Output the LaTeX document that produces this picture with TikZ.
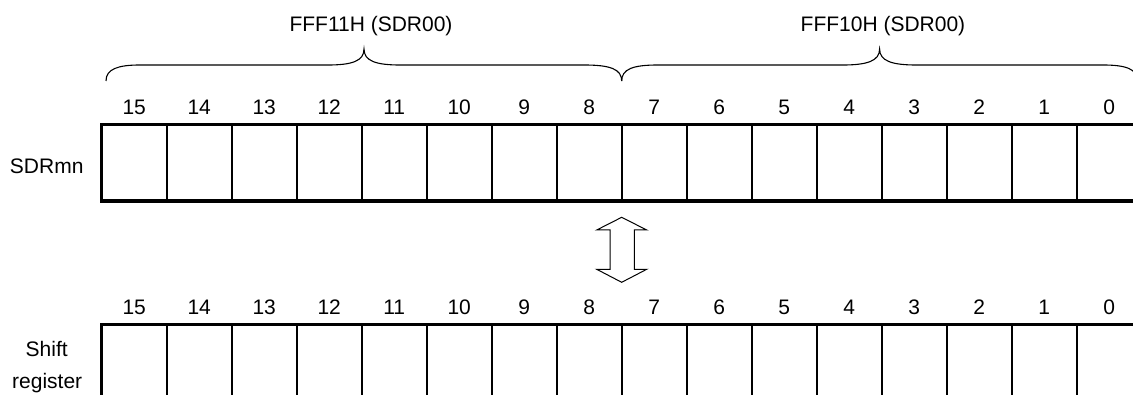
\documentclass[tikz,border=0pt]{standalone}
\usepackage{fontspec}
\setmainfont{Liberation Sans}
\begin{document}
\begin{tikzpicture}[x=1pt,y=-1pt,
  cell/.style={draw, line width=2pt, minimum width=65pt, minimum height=76.5pt, inner sep=0pt, outer sep=0pt},
  txt/.style={font=\fontsize{21}{25}\selectfont, anchor=base, inner sep=0pt},
  frame/.style={line width=3.3pt},
  bracepath/.style={line width=1.1pt},
  xfer/.style={line width=1pt, fill=white, line join=miter}]
\clip (0,0) rectangle (1133,395);
\fill[white] (0,0) rectangle (1133,395);
% registers
\foreach \i in {0,...,15}{
  \pgfmathtruncatemacro\b{15-\i}
  \node[cell] (s\b) at (134.2+65*\i,162.75) {};
  \node[txt] (sn\b) at (134.2+65*\i,114.3) {\b};
  \node[cell] (r\b) at (134.2+65*\i,362.55) {};
  \node[txt] (rn\b) at (134.2+65*\i,314.3) {\b};
}
\draw[frame] (s0.north east) -- (s15.north west) -- (s15.south west) -- (s0.south east);
\draw[frame] (r0.north east) -- (r15.north west) -- (r15.south west);
% labels
\node[txt] (sdr) at (46.7,174) {SDRmn};
\node[txt] (sh1) at (46.7,356) {Shift};
\node[txt] (sh2) at (47.2,388.3) {register};
\node[txt] (h1) at (371,31.7) {FFF11H (SDR00)};
\node[txt] (h0) at (883,31.7) {FFF10H (SDR00)};
% braces
\draw[bracepath] (106,81) .. controls (106,69) and (118,65) .. (140,65) -- (328,65)
  .. controls (352,65) and (364,61) .. (364,49)
  .. controls (364,61) and (376,65) .. (400,65) -- (584,65)
  .. controls (610,65) and (621.7,69) .. (621.7,81);
\draw[bracepath] (621.7,81) .. controls (621.7,69) and (633,65) .. (658,65) -- (843,65)
  .. controls (867,65) and (879.6,61) .. (879.6,49)
  .. controls (879.6,61) and (892,65) .. (916,65) -- (1103,65)
  .. controls (1126,65) and (1137.5,69) .. (1137.5,81);
% transfer arrow
\draw[xfer] (621.7,217.3) -- (646.7,230) -- (634.3,230) -- (634.3,269.3) -- (646.7,269.3)
  -- (621.7,282.3) -- (596.7,269.3) -- (610,269.3) -- (610,230) -- (596.7,230) -- cycle;
\end{tikzpicture}
\end{document}
